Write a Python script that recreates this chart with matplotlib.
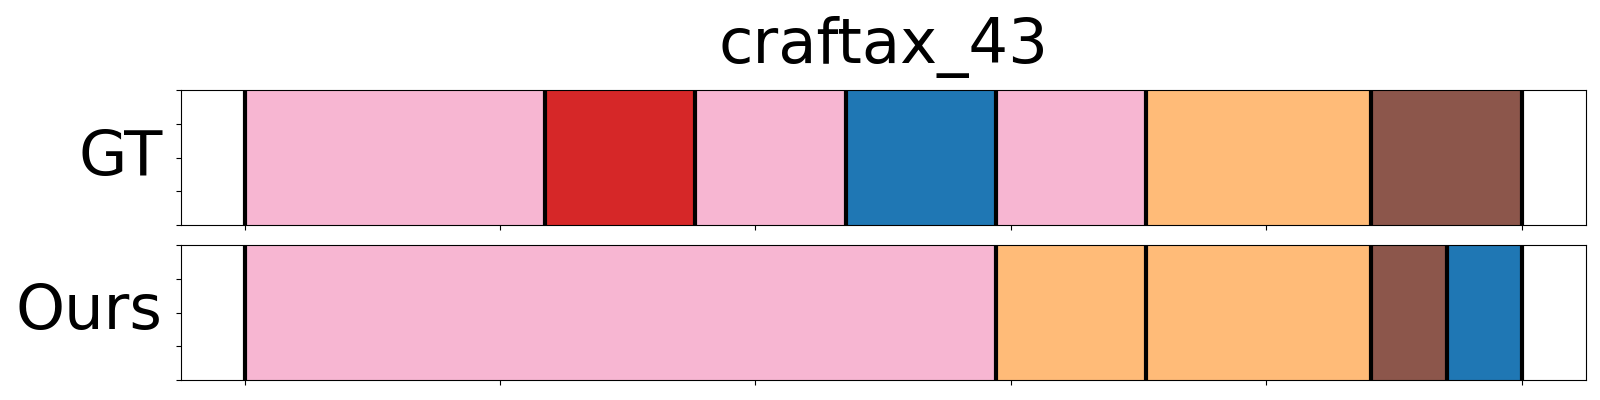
import matplotlib
matplotlib.use("Agg")
import matplotlib.pyplot as plt
import numpy as np

title = "craftax_43"
row_labels = ["GT", "Ours"]
n_frames = 17

# segments: (length in frames, tab20 colour index)
gt_lengths = [4, 2, 2, 2, 2, 3, 2]
gt_colors = [13, 6, 13, 0, 13, 3, 10]
ours_lengths = [10, 2, 3, 1, 1]
ours_colors = [13, 3, 3, 10, 0]

cmap = plt.get_cmap("tab20")

fig = plt.figure(figsize=(16, 4), dpi=100)
ax1 = fig.add_axes([0.113, 0.4375, 0.878, 0.3375])
ax2 = fig.add_axes([0.113, 0.05, 0.878, 0.3375])

for ax, lengths, cols, lab in [(ax1, gt_lengths, gt_colors, row_labels[0]),
                               (ax2, ours_lengths, ours_colors, row_labels[1])]:
    edges = np.concatenate([[0], np.cumsum(lengths)]) / n_frames
    for i, c in enumerate(cols):
        ax.axvspan(edges[i], edges[i + 1], ymin=0, ymax=1, color=cmap(c), lw=0)
    for e in edges:
        ax.axvline(e, color="black", lw=3)
    ax.set_xlim(-0.05, 1.05)
    ax.set_ylim(0, 1)
    ax.set_xticks(np.linspace(0, 1, 6))
    ax.set_xticklabels([])
    ax.set_yticks(np.linspace(0, 1, 5))
    ax.set_yticklabels([])
    ax.set_ylabel(lab, fontsize=45, rotation=0, ha="right", va="center")
    ax.yaxis.set_label_coords(-0.013, 0.5)

ax1.set_title(title, fontsize=45, pad=19.5)

fig.savefig("out.png", dpi=100)
